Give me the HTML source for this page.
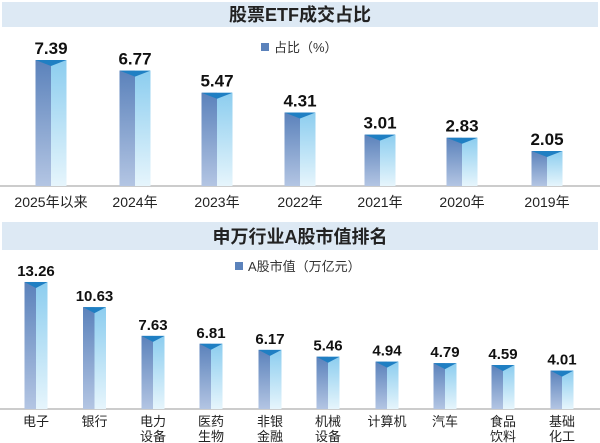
<!DOCTYPE html>
<html><head><meta charset="utf-8"><style>
body{margin:0;background:#fff}
svg{display:block;font-family:"Liberation Sans","Noto Sans CJK SC",sans-serif}
</style></head><body>
<svg width="600" height="443" viewBox="0 0 600 443" xmlns="http://www.w3.org/2000/svg">
<defs>
<linearGradient id="gl" x1="0" y1="0" x2="0" y2="1"><stop offset="0" stop-color="#5b82bb"/><stop offset="1" stop-color="#b3c5e3"/></linearGradient>
<linearGradient id="gr" x1="0" y1="0" x2="0" y2="1"><stop offset="0" stop-color="#8ccdef"/><stop offset="1" stop-color="#e6f5fc"/></linearGradient>
</defs>
<rect x="0" y="0" width="600" height="443" fill="#fff"/>
<rect x="2" y="2" width="596" height="25" fill="#dde9f4"/>
<text x="300" y="21" text-anchor="middle" font-size="18" font-weight="bold" fill="#222">股票ETF成交占比</text>
<rect x="2" y="222" width="596" height="28" fill="#dde9f4"/>
<text x="300" y="243" text-anchor="middle" font-size="18" font-weight="bold" fill="#222">申万行业A股市值排名</text>
<rect x="261" y="43" width="8" height="8" fill="#5b82bb"/>
<text x="274" y="52" font-size="13" fill="#333">占比（%）</text>
<rect x="235" y="262" width="8" height="8" fill="#5b82bb"/>
<text x="248" y="271" font-size="13" fill="#333">A股市值（万亿元）</text>
<line x1="0" y1="186" x2="600" y2="186" stroke="#999" stroke-width="1"/>
<line x1="0" y1="409" x2="600" y2="409" stroke="#999" stroke-width="1"/>
<g id="c1"></g>
<g id="c2"></g>
</svg>
<script>
function bars(g,data,base,scale,w,fs,lfs,ly){
 var s='';
 data.forEach(function(d){
  var c=d[0],v=d[1],h=v*scale,t=base-h,x=c-w/2;
  s+='<rect x="'+x+'" y="'+t+'" width="'+(w/2)+'" height="'+h+'" fill="url(#gl)"/>';
  s+='<rect x="'+c+'" y="'+t+'" width="'+(w/2)+'" height="'+h+'" fill="url(#gr)"/>';
  s+='<polygon points="'+x+','+t+' '+(x+w)+','+t+' '+c+','+(t+6)+'" fill="#1f7fc3"/>';
  s+='<text x="'+c+'" y="'+(t-6)+'" text-anchor="middle" font-size="'+fs+'" font-weight="bold" fill="#111">'+d[2]+'</text>';
  var ls=d[3].split('|');
  ls.forEach(function(l,i){s+='<text x="'+c+'" y="'+(ly+i*15)+'" text-anchor="middle" font-size="'+lfs+'" fill="#222">'+l+'</text>';});
 });
 document.getElementById(g).innerHTML=s;
}
bars('c1',[[51,7.39,'7.39','2025年以来'],[135,6.77,'6.77','2024年'],[217,5.47,'5.47','2023年'],[300,4.31,'4.31','2022年'],[380,3.01,'3.01','2021年'],[462,2.83,'2.83','2020年'],[547,2.05,'2.05','2019年']],186,17.05,31,17,14,207);
bars('c2',[[36,13.26,'13.26','电子'],[94.5,10.63,'10.63','银行'],[153,7.63,'7.63','电力|设备'],[211,6.81,'6.81','医药|生物'],[270,6.17,'6.17','非银|金融'],[328,5.46,'5.46','机械|设备'],[387,4.94,'4.94','计算机'],[445,4.79,'4.79','汽车'],[503,4.59,'4.59','食品|饮料'],[562,4.01,'4.01','基础|化工']],409,9.58,23,15,13,426);
</script>
</body></html>
